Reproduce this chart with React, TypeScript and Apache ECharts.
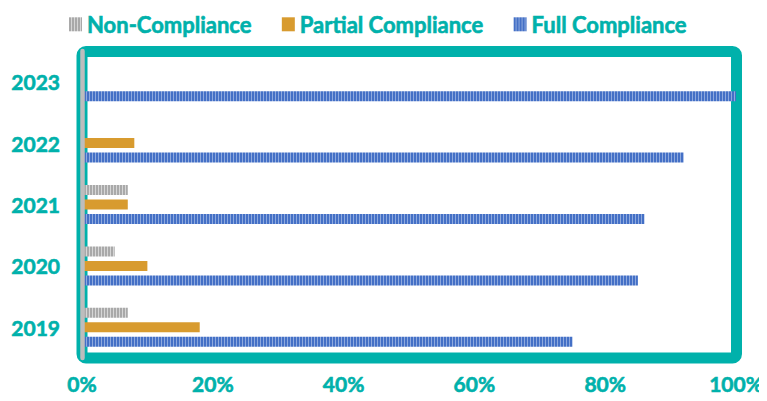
import React, { useEffect, useRef } from "react";
import * as echarts from "echarts";

const years = ["2019", "2020", "2021", "2022", "2023"];
const nonCompliance = [7, 5, 7, 0, 0];
const partialCompliance = [18, 10, 7, 8, 0];
const fullCompliance = [75, 85, 86, 92, 100];
const xTicks = [0, 20, 40, 60, 80, 100];

const TEAL = "#00B1AB";
const FONT = "Lato";
const WEIGHT = "bold";

function stripe(dark: string, light: string) {
  const c = document.createElement("canvas");
  c.width = 3;
  c.height = 12;
  const ctx = c.getContext("2d")!;
  ctx.fillStyle = light;
  ctx.fillRect(0, 0, 3, 12);
  ctx.fillStyle = dark;
  ctx.fillRect(0, 0, 2, 12);
  return { image: c, repeat: "repeat" } as any;
}

export default function App() {
  const ref = useRef<HTMLDivElement>(null);
  useEffect(() => {
    if (!ref.current) return;
    const chart = echarts.init(ref.current, undefined, { renderer: "svg" });
    const grayPat = stripe("#A9A9A9", "#D6D6D6");
    const bluePat = stripe("#4470C6", "#8EA9DE");
    const heavy = { textBorderColor: TEAL, textBorderWidth: 0.6 };
    chart.setOption({
      animation: false,
      legend: {
        data: ["Non-Compliance", "Partial Compliance", "Full Compliance"],
        top: 8,
        left: 64,
        itemWidth: 13,
        itemHeight: 14,
        itemGap: 30,
        icon: "rect",
        textStyle: {
          color: TEAL,
          fontFamily: FONT,
          fontWeight: WEIGHT,
          fontSize: 22,
          ...heavy,
        },
      },
      grid: { left: 82, right: 31, top: 51, bottom: 43, containLabel: false },
      graphic: [
        {
          type: "rect",
          z: 0,
          shape: { x: 82, y: 51.5, width: 654.5, height: 306.5, r: 4 },
          style: { fill: "none", stroke: TEAL, lineWidth: 11 },
          silent: true,
        },
      ],
      xAxis: {
        type: "value",
        min: xTicks[0],
        max: xTicks[xTicks.length - 1],
        interval: 20,
        axisLine: { show: false },
        axisTick: { show: false },
        splitLine: { show: false },
        axisLabel: {
          formatter: "{value}%",
          color: TEAL,
          fontFamily: FONT,
          fontWeight: WEIGHT,
          fontSize: 21,
          lineHeight: 20,
          margin: 15,
          ...heavy,
        },
      },
      yAxis: {
        type: "category",
        data: years,
        z: 5,
        axisLine: { show: true, lineStyle: { color: "#BDBDBD", width: 4.5 } },
        axisTick: { show: false },
        axisLabel: {
          color: TEAL,
          fontFamily: FONT,
          fontWeight: WEIGHT,
          fontSize: 21,
          margin: 22,
          ...heavy,
        },
      },
      series: [
        {
          name: "Non-Compliance",
          type: "bar",
          data: nonCompliance,
          barWidth: 10,
          barGap: "45%",
          itemStyle: { color: grayPat },
        },
        {
          name: "Partial Compliance",
          type: "bar",
          data: partialCompliance,
          barWidth: 10,
          barGap: "45%",
          itemStyle: { color: "#D89B2F" },
        },
        {
          name: "Full Compliance",
          type: "bar",
          data: fullCompliance,
          barWidth: 10,
          barGap: "45%",
          itemStyle: { color: bluePat },
        },
      ],
    });
    return () => chart.dispose();
  }, []);
  return <div ref={ref} style={{ width: 767, height: 401, margin: -8 }} />;
}
